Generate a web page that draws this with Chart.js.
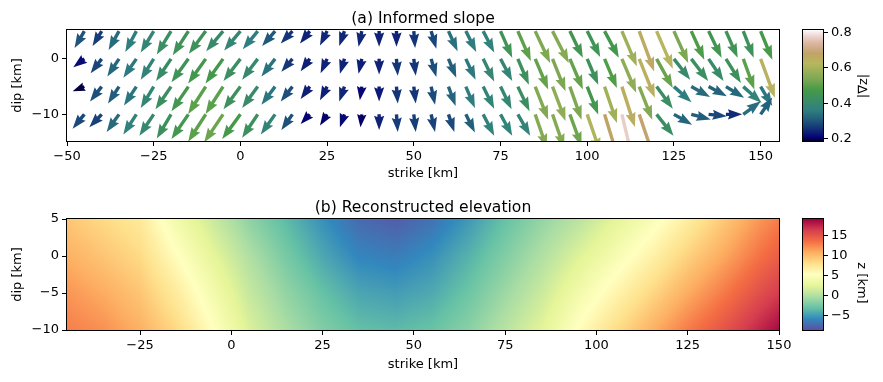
<!DOCTYPE html>
<html>
<head>
<meta charset="utf-8">
<script src="https://cdn.jsdelivr.net/npm/chart.js@4.4.1/dist/chart.umd.min.js"></script>
<style>
  html, body { margin: 0; padding: 0; background: #fff; }
  #wrap { position: relative; width: 883px; height: 382px; overflow: hidden; }
  canvas { position: absolute; }
</style>
</head>
<body>
<div id="wrap">
  <canvas id="slope" width="790" height="185" style="left:0;top:0"></canvas>
  <canvas id="elev" width="800" height="196" style="left:0;top:180px"></canvas>
  <canvas id="slopeBar" width="103" height="175" style="left:780px;top:0"></canvas>
  <canvas id="elevBar" width="103" height="196" style="left:780px;top:180px"></canvas>
</div>
<script>
// (a) informed slope: arrow grid along strike, one pair of rows per dip
const slopeStrike = [-45, -40, -35, -30, -25, -20, -15, -10, -5, 0,
  5, 10, 15, 20, 25, 30, 35, 40, 45, 50,
  55, 60, 65, 70, 75, 80, 85, 90, 95, 100,
  105, 110, 115, 120, 125, 130, 135, 140, 145, 150];
const slopeDip = [5, 0, -5, -10];

const uDip5 = [-0.15, -0.14, -0.16, -0.17, -0.20, -0.22, -0.24, -0.26, -0.26, -0.25,
  -0.23, -0.20, -0.18, -0.15, -0.11, -0.08, -0.05, 0.00, 0.00, 0.02,
  0.08, 0.14, 0.16, 0.17, 0.18, 0.20, 0.23, 0.25, 0.20, 0.20,
  0.22, 0.23, 0.23, 0.25, 0.22, 0.20, 0.20, 0.18, 0.16, 0.18];
const vDip5 = [-0.26, -0.23, -0.29, -0.32, -0.33, -0.36, -0.37, -0.35, -0.31, -0.30,
  -0.28, -0.23, -0.19, -0.19, -0.22, -0.23, -0.24, -0.24, -0.24, -0.26,
  -0.27, -0.31, -0.32, -0.33, -0.41, -0.46, -0.49, -0.49, -0.41, -0.40,
  -0.41, -0.54, -0.62, -0.58, -0.49, -0.44, -0.41, -0.41, -0.41, -0.44];

const uDip0 = [-0.17, -0.17, -0.18, -0.20, -0.20, -0.23, -0.26, -0.27, -0.27, -0.26,
  -0.24, -0.21, -0.17, -0.14, -0.10, -0.07, -0.05, 0.00, 0.02, 0.03,
  0.08, 0.12, 0.15, 0.17, 0.18, 0.17, 0.20, 0.20, 0.20, 0.17,
  0.19, 0.22, 0.24, 0.25, 0.25, 0.26, 0.23, 0.23, 0.17, 0.22];
const vDip0 = [-0.13, -0.22, -0.27, -0.29, -0.32, -0.34, -0.36, -0.38, -0.38, -0.34,
  -0.32, -0.27, -0.20, -0.19, -0.22, -0.23, -0.23, -0.24, -0.26, -0.26,
  -0.28, -0.29, -0.32, -0.35, -0.34, -0.40, -0.47, -0.50, -0.47, -0.40,
  -0.45, -0.52, -0.60, -0.45, -0.32, -0.34, -0.34, -0.37, -0.47, -0.60];

const uDipM5 = [-0.18, -0.18, -0.17, -0.19, -0.20, -0.24, -0.26, -0.27, -0.27, -0.26,
  -0.24, -0.21, -0.18, -0.14, -0.11, -0.08, -0.03, 0.00, 0.02, 0.03,
  0.06, 0.11, 0.14, 0.17, 0.17, 0.18, 0.20, 0.20, 0.18, 0.17,
  0.19, 0.20, 0.20, 0.25, 0.27, 0.29, 0.28, 0.28, 0.28, 0.18];
const vDipM5 = [-0.07, -0.23, -0.26, -0.29, -0.33, -0.35, -0.38, -0.42, -0.42, -0.35,
  -0.33, -0.28, -0.23, -0.19, -0.21, -0.23, -0.21, -0.23, -0.26, -0.26,
  -0.28, -0.30, -0.33, -0.34, -0.35, -0.38, -0.51, -0.53, -0.51, -0.43,
  -0.56, -0.62, -0.51, -0.34, -0.24, -0.16, -0.15, -0.17, -0.25, -0.30];

const uDipM10 = [-0.18, -0.19, -0.19, -0.20, -0.22, -0.22, -0.26, -0.27, -0.29, -0.28,
  -0.24, -0.22, -0.17, -0.14, -0.11, -0.07, -0.02, 0.00, 0.02, 0.03,
  0.06, 0.09, 0.14, 0.17, 0.18, 0.19, 0.18, 0.18, 0.18, 0.20,
  0.20, 0.18, 0.22, 0.26, 0.28, 0.30, 0.28, 0.25, 0.27, 0.18];
const vDipM10 = [-0.22, -0.20, -0.27, -0.31, -0.33, -0.37, -0.38, -0.42, -0.43, -0.38,
  -0.36, -0.31, -0.24, -0.15, -0.17, -0.20, -0.20, -0.24, -0.27, -0.27,
  -0.27, -0.27, -0.28, -0.33, -0.33, -0.33, -0.52, -0.52, -0.49, -0.58,
  -0.65, -0.75, -0.65, -0.33, -0.16, -0.08, -0.03, 0.00, 0.20, 0.26];

// (b) reconstructed elevation, z [km] read on a coarse grid
const elevStrike = [-45, -35, -25, -15, -5, 5, 15, 25, 35, 45, 55, 65, 75, 85, 95, 105, 115, 125, 135, 145, 150];
const elevDip = [5, 0, -5, -10];
const zDip5 = [9.4, 8.3, 7.2, 3.8, 1.2, -1.4, -3.4, -5.4, -7.2, -7.8, -6.8, -5.0, -3.0, -1.2, 0.4, 2.4, 4.4, 6.8, 9.3, 11.8, 12.8];
const zDip0 = [10.6, 9.5, 8.3, 5.4, 2.6, 0.0, -2.3, -4.3, -5.9, -6.3, -5.4, -3.8, -1.9, 0.0, 2.1, 4.2, 6.4, 8.8, 11.0, 13.4, 14.4];
const zDipM5 = [11.8, 10.8, 9.5, 7.0, 4.0, 1.0, -1.2, -3.0, -4.4, -4.8, -4.2, -2.7, -0.8, 1.2, 3.8, 6.1, 8.4, 10.8, 13.0, 15.3, 16.3];
const zDipM10 = [12.8, 12.0, 10.6, 8.4, 5.3, 2.0, -0.2, -1.9, -3.1, -3.4, -2.9, -1.6, 0.4, 2.4, 5.4, 8.0, 10.5, 12.9, 15.0, 17.4, 18.6];

// ticks and colour ranges
const slopeStrikeTicks = [-50, -25, 0, 25, 50, 75, 100, 125, 150];
const slopeDipTicks = [0, -10];
const elevStrikeTicks = [-25, 0, 25, 50, 75, 100, 125, 150];
const elevDipTicks = [5, 0, -5, -10];
const slopeBarTicks = [0.2, 0.4, 0.6, 0.8];
const elevBarTicks = [-5, 0, 5, 10, 15];
const slopeRange = [0.186, 0.815];
const elevRange = [-8.5, 19.0];

const slopeU = [uDip5, uDip0, uDipM5, uDipM10];
const slopeV = [vDip5, vDip0, vDipM5, vDipM10];
const elevZ = [zDip5, zDip0, zDipM5, zDipM10];

const FONT = 'DejaVu Sans';
const ARROW_K = 65;   // px per slope unit
const SHAFT = 3.4;

// colormaps
const gistEarth = {
  r: [[0, 0], [0.2824, 0.1882], [0.4588, 0.2714], [0.5490, 0.4719], [0.6980, 0.7176], [0.7882, 0.7553], [1, 0.9922]],
  g: [[0, 0], [0.0275, 0], [0.1098, 0.1893], [0.1647, 0.3035], [0.2078, 0.3841], [0.2824, 0.5020], [0.5216, 0.6397],
      [0.6980, 0.7171], [0.7882, 0.6392], [0.8157, 0.6549], [0.8667, 0.6991], [0.8980, 0.7430], [0.9412, 0.8275],
      [0.9647, 0.8816], [0.9961, 0.9733], [1, 0.9843]],
  b: [[0, 0], [0.0039, 0.1684], [0.0078, 0.2212], [0.0275, 0.4329], [0.0314, 0.4549], [0.2824, 0.5004], [0.4667, 0.2748],
      [0.5451, 0.3205], [0.7843, 0.3961], [0.8941, 0.6651], [1, 0.9843]]
};
const spectralR = ['#5e4fa2', '#3288bd', '#66c2a5', '#abdda4', '#e6f598', '#ffffbf', '#fee08b', '#fdae61', '#f46d43', '#d53e4f', '#9e0142']
  .map(h => [parseInt(h.slice(1, 3), 16), parseInt(h.slice(3, 5), 16), parseInt(h.slice(5, 7), 16)]);

const clamp01 = t => Math.max(0, Math.min(1, t));
function segment(stops, t) {
  for (let i = 1; i < stops.length; i++) {
    if (t <= stops[i][0]) {
      const a = stops[i - 1], b = stops[i];
      return a[1] + (b[1] - a[1]) * (t - a[0]) / (b[0] - a[0]);
    }
  }
  return stops[stops.length - 1][1];
}
function earthRGB(t) {
  t = clamp01(t);
  return [segment(gistEarth.r, t) * 255, segment(gistEarth.g, t) * 255, segment(gistEarth.b, t) * 255];
}
function spectralRGB(t) {
  t = clamp01(t) * (spectralR.length - 1);
  const i = Math.min(Math.floor(t), spectralR.length - 2), f = t - i;
  const a = spectralR[i], b = spectralR[i + 1];
  return [a[0] + (b[0] - a[0]) * f, a[1] + (b[1] - a[1]) * f, a[2] + (b[2] - a[2]) * f];
}
const rgb = c => `rgb(${Math.round(c[0])},${Math.round(c[1])},${Math.round(c[2])})`;

// bilinear shading of the elevation grid (like imshow bilinear)
function elevAt(s, d) {
  let i = 0;
  while (i < elevStrike.length - 2 && s > elevStrike[i + 1]) i++;
  let j = 0;
  while (j < elevDip.length - 2 && d < elevDip[j + 1]) j++;
  const fx = clamp01((s - elevStrike[i]) / (elevStrike[i + 1] - elevStrike[i]));
  const fy = clamp01((elevDip[j] - d) / (elevDip[j] - elevDip[j + 1]));
  const top = elevZ[j][i] + (elevZ[j][i + 1] - elevZ[j][i]) * fx;
  const bot = elevZ[j + 1][i] + (elevZ[j + 1][i + 1] - elevZ[j + 1][i]) * fx;
  return top + (bot - top) * fy;
}

const minus = v => (v < 0 ? '\u2212' + Math.abs(v) : String(v));

function drawArrow(ctx, x0, y0, dx, dy, color) {
  const L = Math.hypot(dx, dy);
  const w = SHAFT, hl = 4.2 * w, hal = 3.8 * w, hw = 1.5 * w, sw = w / 2;
  let len = L, k = 1;
  if (L < hl) { len = hl; k = L / hl; }
  const pts = [[0, -sw], [len - hal, -sw], [len - hl, -hw], [len, 0], [len - hl, hw], [len - hal, sw], [0, sw]];
  ctx.save();
  ctx.translate(x0, y0);
  ctx.rotate(Math.atan2(dy, dx));
  ctx.scale(k, k);
  ctx.beginPath();
  pts.forEach((p, n) => (n ? ctx.lineTo(p[0], p[1]) : ctx.moveTo(p[0], p[1])));
  ctx.closePath();
  ctx.fillStyle = color;
  ctx.fill();
  ctx.restore();
}

const quiverPlugin = {
  id: 'quiver',
  afterDatasetsDraw(chart) {
    const { ctx, chartArea: a, scales: { x, y } } = chart;
    ctx.save();
    ctx.beginPath();
    ctx.rect(a.left, a.top, a.right - a.left, a.bottom - a.top);
    ctx.clip();
    slopeDip.forEach((dip, r) => {
      slopeStrike.forEach((s, i) => {
        const u = slopeU[r][i], v = slopeV[r][i];
        const mag = Math.hypot(u, v);
        const t = (mag - slopeRange[0]) / (slopeRange[1] - slopeRange[0]);
        drawArrow(ctx, x.getPixelForValue(s), y.getPixelForValue(dip), u * ARROW_K, -v * ARROW_K, rgb(earthRGB(t)));
      });
    });
    ctx.restore();
  }
};

const heatPlugin = {
  id: 'heat',
  beforeDatasetsDraw(chart) {
    const { ctx, chartArea: a, scales: { x, y } } = chart;
    const x0 = Math.round(a.left), y0 = Math.round(a.top);
    const w = Math.round(a.right) - x0, h = Math.round(a.bottom) - y0;
    const off = document.createElement('canvas');
    off.width = w; off.height = h;
    const octx = off.getContext('2d');
    const img = octx.createImageData(w, h);
    for (let j = 0; j < h; j++) {
      const d = y.getValueForPixel(y0 + j + 0.5);
      for (let i = 0; i < w; i++) {
        const s = x.getValueForPixel(x0 + i + 0.5);
        const c = spectralRGB((elevAt(s, d) - elevRange[0]) / (elevRange[1] - elevRange[0]));
        const p = (j * w + i) * 4;
        img.data[p] = c[0]; img.data[p + 1] = c[1]; img.data[p + 2] = c[2]; img.data[p + 3] = 255;
      }
    }
    octx.putImageData(img, 0, 0);
    ctx.drawImage(off, x0, y0);
  }
};

// colour bar body drawn through its own y scale
function barPlugin(range, toRGB) {
  return {
    id: 'bar',
    beforeDatasetsDraw(chart) {
      const { ctx, chartArea: a, scales: { y } } = chart;
      for (let py = Math.floor(a.top); py < Math.ceil(a.bottom); py++) {
        const v = y.getValueForPixel(py + 0.5);
        ctx.fillStyle = rgb(toRGB((v - range[0]) / (range[1] - range[0])));
        ctx.fillRect(a.left, py, a.right - a.left, 1);
      }
    }
  };
}

function framePlugin(title, titleSize) {
  return {
    id: 'frame',
    afterDraw(chart) {
      const { ctx, chartArea: a } = chart;
      ctx.save();
      ctx.strokeStyle = '#000';
      ctx.lineWidth = 1;
      ctx.strokeRect(Math.round(a.left) - 0.5, Math.round(a.top) - 0.5,
        Math.round(a.right) - Math.round(a.left) + 1, Math.round(a.bottom) - Math.round(a.top) + 1);
      if (title) {
        ctx.fillStyle = '#000';
        ctx.font = `${titleSize}px "${FONT}"`;
        ctx.textAlign = 'center';
        ctx.textBaseline = 'alphabetic';
        ctx.fillText(title, (a.left + a.right) / 2, a.top - 7);
      }
      ctx.restore();
    }
  };
}

function barLabel(text, cx, cy, angle) {
  return {
    id: 'barLabel',
    afterDraw(chart) {
      const { ctx } = chart;
      ctx.save();
      ctx.translate(cx, cy);
      ctx.rotate(angle);
      ctx.fillStyle = '#000';
      ctx.font = `13px "${FONT}"`;
      ctx.textAlign = 'center';
      ctx.textBaseline = 'middle';
      ctx.fillText(text, 0, 0);
      ctx.restore();
    }
  };
}

const tickFont = { family: FONT, size: 13 };
const axisTicks = { display: true, drawOnChartArea: false, drawTicks: true, tickLength: 5, tickColor: '#000' };

function linearAxis(min, max, ticks, fmt, size, extra) {
  return Object.assign({
    type: 'linear', min, max,
    afterBuildTicks: ax => { ax.ticks = ticks.map(v => ({ value: v })); },
    ticks: { color: '#000', font: tickFont, padding: 3, autoSkip: false, maxRotation: 0, callback: fmt },
    grid: axisTicks,
    border: { display: false }
  }, size, extra);
}
const title = text => ({ display: true, text, color: '#000', font: { family: FONT, size: 13 }, padding: { top: 4, bottom: 4 } });

const base = {
  responsive: false, animation: false, devicePixelRatio: 1,
  plugins: { legend: { display: false }, tooltip: { enabled: false }, title: { display: false } }
};

// (a) quiver
const slopePoints = [];
slopeDip.forEach(d => slopeStrike.forEach(s => slopePoints.push({ x: s, y: d })));
new Chart(document.getElementById('slope'), {
  type: 'scatter',
  data: { datasets: [{ data: slopePoints, pointRadius: 0 }] },
  options: Object.assign({}, base, {
    layout: { padding: { left: 6, top: 30, right: 11, bottom: 0 } },
    scales: {
      x: linearAxis(-50, 155.3, slopeStrikeTicks, minus, { afterFit: ax => { ax.height = 44; } }, { title: title('strike [km]') }),
      y: linearAxis(-14.8, 5.2, slopeDipTicks, minus, { afterFit: ax => { ax.width = 61; } }, { title: title('dip [km]') })
    }
  }),
  plugins: [quiverPlugin, framePlugin('(a) Informed slope', 15.6)]
});

// (b) elevation
const elevPoints = [];
elevDip.forEach(d => elevStrike.forEach(s => elevPoints.push({ x: s, y: d })));
new Chart(document.getElementById('elev'), {
  type: 'scatter',
  data: { datasets: [{ data: elevPoints, pointRadius: 0 }] },
  options: Object.assign({}, base, {
    layout: { padding: { left: 6, top: 39, right: 21, bottom: 0 } },
    scales: {
      x: linearAxis(-45, 150, elevStrikeTicks, minus, { afterFit: ax => { ax.height = 46; } }, { title: title('strike [km]') }),
      y: linearAxis(-10, 5, elevDipTicks, minus, { afterFit: ax => { ax.width = 61; } }, { title: title('dip [km]') })
    }
  }),
  plugins: [heatPlugin, framePlugin('(b) Reconstructed elevation', 15.6)]
});

// colour bars
function colorBar(id, range, ticks, fmt, padTop, padBottom, toRGB, label, lx, ly, angle) {
  new Chart(document.getElementById(id), {
    type: 'scatter',
    data: { datasets: [] },
    options: Object.assign({}, base, {
      layout: { padding: { left: 23, top: padTop, right: 0, bottom: padBottom } },
      scales: {
        x: { display: false, min: 0, max: 1 },
        y: linearAxis(range[0], range[1], ticks, fmt, { afterFit: ax => { ax.width = 60; } }, { position: 'right' })
      }
    }),
    plugins: [barPlugin(range, toRGB), framePlugin(null), barLabel(label, lx, ly, angle)]
  });
}
colorBar('slopeBar', slopeRange, slopeBarTicks, v => v.toFixed(1), 30, 34, earthRGB, '|\u2207z|', 84, 86, -Math.PI / 2);
colorBar('elevBar', elevRange, elevBarTicks, minus, 39, 46, spectralRGB, 'z [km]', 81, 103, Math.PI / 2);
</script>
</body>
</html>
